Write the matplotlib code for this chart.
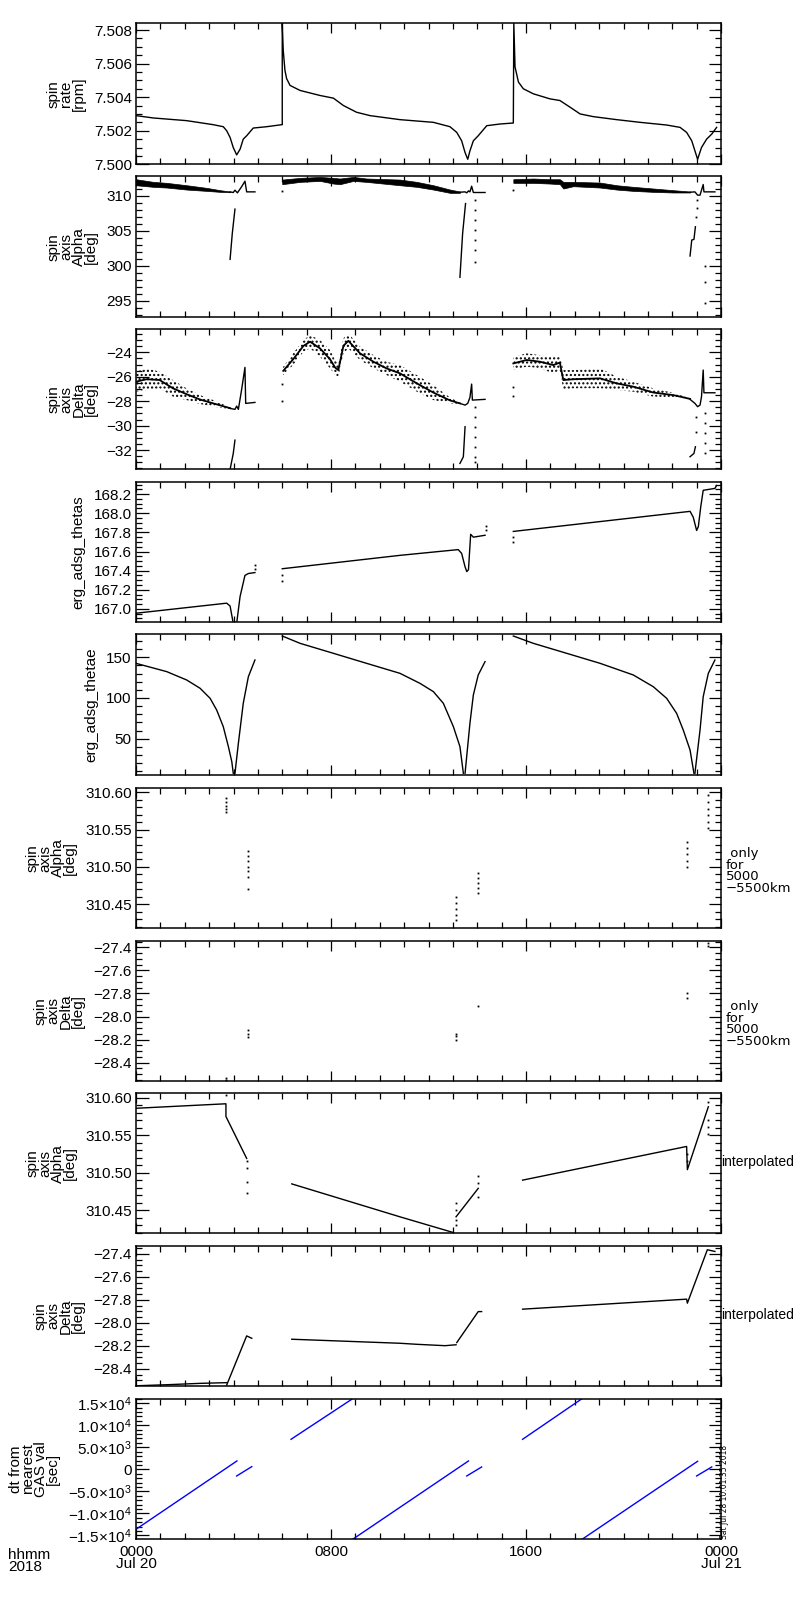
import matplotlib
matplotlib.use('Agg')
import matplotlib.pyplot as plt
from matplotlib.ticker import MultipleLocator, FixedLocator, FixedFormatter

plt.rcParams['font.family'] = ['Liberation Sans', 'DejaVu Sans']
plt.rcParams['mathtext.fontset'] = 'custom'
plt.rcParams['mathtext.rm'] = 'Liberation Sans'
plt.rcParams['mathtext.it'] = 'Liberation Sans:italic'
plt.rcParams['mathtext.bf'] = 'Liberation Sans:bold'
plt.rcParams['hatch.linewidth'] = 1.0

# ---------------- data (time in hours from 2018-07-20 00:00) ----------------
x_tick_pos = [0, 8, 16, 24]
x_tick_lab = ['0000\nJul 20', '0800', '1600', '0000\nJul 21']

# panel 1: spin rate [rpm]
rate_t = [0, 0.71, 2.08, 3.17, 3.58, 3.72, 3.86, 3.99, 4.13, 4.27, 4.40, 4.54, 4.81, 5.36, 5.98,
          6.00, 6.00, 6.04, 6.11, 6.18, 6.32, 6.73, 7.55, 8.10, 8.51, 9.05, 9.60, 10.83, 12.20,
          12.88, 13.16, 13.36, 13.50, 13.61, 13.70, 13.84, 14.04, 14.39, 14.93, 15.48, 15.50,
          15.55, 15.69, 15.89, 16.30, 16.98, 17.39, 17.81, 18.22, 18.76, 19.72, 20.68, 21.77,
          22.32, 22.59, 22.80, 23.04, 23.20, 23.41, 23.62, 23.82]
rate_v = [7.5029, 7.50276, 7.5026, 7.50236, 7.50224, 7.5020, 7.5016, 7.5010, 7.50056, 7.5009,
          7.5015, 7.5017, 7.50216, 7.50224, 7.50236,
          7.50236, 7.5084, 7.5068, 7.5056, 7.5051, 7.5047, 7.5044, 7.5041, 7.50394, 7.5035,
          7.5031, 7.5029, 7.50266, 7.5025,
          7.50224, 7.5019, 7.5014, 7.5007, 7.5003, 7.5008, 7.5014, 7.5017, 7.5023, 7.5024,
          7.50246, 7.5084,
          7.5058, 7.5049, 7.5045, 7.5042, 7.5039, 7.5038, 7.5034, 7.5030, 7.50284, 7.50266,
          7.5025, 7.50234,
          7.5022, 7.5019, 7.5014, 7.5003, 7.5010, 7.5015, 7.5018, 7.5022]
rate_ticks = [7.500, 7.502, 7.504, 7.506, 7.508]
rate_labels = ['7.500', '7.502', '7.504', '7.506', '7.508']

# panel 2: spin axis Alpha [deg]
alpha_band_t = [[0, 0.71, 1.26, 2.08, 2.90, 3.45, 3.86],
                [6.0, 6.73, 7.55, 8.10, 8.37, 8.92, 9.46, 10.83, 11.52, 12.20, 12.88, 13.29],
                [15.48, 16.30, 16.98, 17.39, 17.53, 17.94, 19.04, 19.72, 20.40, 21.22, 22.04, 22.73]]
alpha_band_hi = [[312.38, 312.0, 311.86, 311.52, 311.14, 310.81, 310.62],
                 [312.33, 312.57, 312.71, 312.57, 312.48, 312.71, 312.48, 312.33, 312.0, 311.52, 310.9, 310.62],
                 [312.38, 312.48, 312.38, 312.38, 312.0, 312.0, 311.9, 311.52, 311.29, 311.05, 310.81, 310.62]]
alpha_band_lo = [[311.52, 311.29, 311.19, 310.90, 310.71, 310.57, 310.52],
                 [311.67, 312.0, 312.14, 311.76, 311.67, 312.14, 312.0, 311.52, 311.29, 310.9, 310.43, 310.43],
                 [311.86, 311.86, 311.76, 311.67, 311.05, 311.38, 311.19, 310.9, 310.71, 310.57, 310.48, 310.48]]
alpha_line_t = [[3.86, 3.99, 4.06, 4.16, 4.33, 4.47, 4.54, 4.88],
                [13.29, 13.50, 13.57, 13.64, 13.70, 13.77, 13.84, 14.32],
                [22.73, 22.93, 23.04, 23.14, 23.20, 23.27, 23.30, 23.75],
                [3.86, 3.95, 4.06], [13.29, 13.40, 13.52], [22.73, 22.80, 22.89, 22.95]]
alpha_line_v = [[310.57, 310.48, 310.81, 310.43, 311.29, 312.1, 310.57, 310.57],
                [310.52, 310.57, 310.43, 310.71, 310.57, 311.38, 310.48, 310.48],
                [310.52, 310.57, 310.1, 310.1, 310.81, 311.62, 310.57, 310.57],
                [300.9, 304.6, 308.1], [298.33, 304.62, 308.9], [301.38, 303.67, 303.76, 305.57]]
alpha_dot_t = [6.0, 15.48, 13.9, 13.9, 13.9, 13.9, 13.9, 13.9, 13.9, 22.97, 23.0, 23.0,
               23.34, 23.34, 23.34]
alpha_dot_v = [310.7, 310.9, 309.38, 307.95, 306.52, 305.1, 303.67, 302.24, 300.57, 306.9,
               308.3, 309.38, 300.0, 297.71, 294.62]
alpha_ticks = [295, 300, 305, 310]
alpha_labels = ['295', '300', '305', '310']

# panel 3: spin axis Delta [deg]
delta_band_t = [[0, 0.44, 0.97, 1.52, 2.08, 2.63, 3.17, 3.86],
                [6.04, 6.45, 6.87, 7.14, 7.55, 7.96, 8.17, 8.30, 8.51, 8.71, 9.19, 9.74, 10.28,
                 10.83, 11.52, 12.20, 12.88, 13.29],
                [15.48, 16.03, 16.57, 17.12, 17.39, 17.53, 17.94, 19.04, 19.72, 20.40, 21.22,
                 22.04, 22.73]]
delta_band_hi = [[-25.58, -25.31, -25.58, -26.27, -26.95, -27.50, -27.91, -28.50],
                 [-25.17, -24.08, -22.99, -22.58, -22.99, -23.81, -24.63, -24.90, -22.85, -22.44,
                  -23.53, -24.22, -24.77, -25.04, -25.86, -26.68, -27.69, -28.13],
                 [-24.36, -24.08, -24.22, -24.36, -24.22, -25.45, -25.45, -25.31, -25.99, -26.40,
                  -26.95, -27.31, -27.77]]
delta_band_lo = [[-27.22, -27.09, -26.95, -27.63, -27.91, -28.23, -28.45, -28.64],
                 [-25.86, -25.04, -23.95, -23.67, -24.36, -25.31, -25.86, -26.00, -24.08, -23.67,
                  -24.63, -25.31, -25.86, -26.40, -27.22, -27.91, -28.18, -28.23],
                 [-25.45, -25.17, -25.31, -25.72, -25.45, -27.09, -26.95, -26.95, -27.09, -27.22,
                  -27.63, -27.69, -27.85]]
delta_line_t = [[3.86, 4.06, 4.13, 4.20, 4.33, 4.47, 4.50, 4.88],
                [13.29, 13.50, 13.61, 13.70, 13.77, 13.80, 14.32],
                [22.73, 22.93, 23.04, 23.14, 23.20, 23.27, 23.30, 23.75],
                [3.86, 3.99, 4.06], [13.29, 13.43, 13.50], [22.73, 22.89, 22.95]]
delta_line_v = [[-28.59, -28.67, -28.40, -28.67, -27.09, -25.23, -28.18, -28.10],
                [-28.18, -28.32, -28.18, -27.69, -26.60, -27.91, -27.85],
                [-27.85, -28.18, -28.45, -28.32, -27.63, -25.45, -27.31, -27.31],
                [-33.59, -32.28, -31.19], [-33.10, -32.55, -30.09], [-32.55, -32.28, -31.73]]
delta_dot_t = [6.0, 6.0, 15.48, 15.48, 13.9, 13.9, 13.9, 13.9, 13.9, 13.9, 13.9,
               22.97, 22.97, 23.34, 23.34, 23.34, 23.34, 23.34]
delta_dot_v = [-26.6, -27.99, -26.87, -27.58, -28.45, -29.27, -30.09, -30.91, -31.73, -32.55,
               -32.96, -29.27, -30.5, -29.0, -29.82, -30.64, -31.46, -32.28]
delta_ticks = [-32, -30, -28, -26, -24]
delta_labels = ['\u221232', '\u221230', '\u221228', '\u221226', '\u221224']

# panel 4: erg_adsg_thetas
thetas_t = [[0, 3.72, 3.86, 3.99, 4.13, 4.27, 4.47, 4.61, 4.88],
            [6.0, 10.83, 13.22, 13.36, 13.50, 13.57, 13.64, 13.73, 13.84, 14.32],
            [15.48, 22.73, 22.86, 23.00, 23.07, 23.17, 23.27, 23.75, 23.82]]
thetas_v = [[166.955, 167.06, 167.03, 166.85, 166.85, 167.13, 167.35, 167.37, 167.38],
            [167.42, 167.56, 167.62, 167.58, 167.44, 167.39, 167.41, 167.78, 167.75, 167.77],
            [167.81, 168.02, 167.96, 167.82, 167.86, 168.07, 168.24, 168.26, 168.29]]
thetas_dot_t = [4.88, 4.88, 6.0, 6.0, 14.36, 14.36, 15.48, 15.48]
thetas_dot_v = [167.42, 167.46, 167.29, 167.35, 167.87, 167.83, 167.70, 167.75]
thetas_ticks = [167.0, 167.2, 167.4, 167.6, 167.8, 168.0, 168.2]
thetas_labels = ['167.0', '167.2', '167.4', '167.6', '167.8', '168.0', '168.2']

# panel 5: erg_adsg_thetae
thetae_t = [[0, 1.26, 2.08, 2.63, 3.04, 3.31, 3.58, 3.79, 3.93, 3.99],
            [4.06, 4.20, 4.40, 4.61, 4.88],
            [6.0, 6.73, 8.10, 9.46, 10.83, 11.65, 12.20, 12.61, 13.02, 13.29, 13.43],
            [13.50, 13.70, 13.84, 14.04, 14.32],
            [15.48, 16.30, 17.67, 19.04, 20.40, 21.22, 21.77, 22.18, 22.45, 22.73, 22.89],
            [22.93, 23.14, 23.27, 23.48, 23.75]]
thetae_v = [[142.6, 132.4, 122.1, 111.9, 99.6, 85.2, 64.8, 40.2, 21.7, 7.4],
            [7.4, 44.3, 93.4, 126.2, 146.7],
            [176.2, 167.2, 154.9, 142.6, 130.3, 118.0, 107.8, 93.4, 64.8, 40.2, 7.4],
            [7.4, 68.9, 103.7, 128.3, 144.7],
            [176.2, 167.2, 154.9, 142.6, 128.3, 113.9, 99.6, 81.1, 60.7, 36.1, 7.4],
            [7.4, 60.7, 101.6, 130.3, 146.7]]
thetae_ticks = [50, 100, 150]
thetae_labels = ['50', '100', '150']

# panel 6: spin axis Alpha, only for 5000-5500 km
alpha_r_t = [3.69, 3.69, 3.69, 3.69, 3.69, 4.60, 4.60, 4.60, 4.60, 4.60, 4.60, 4.60,
             13.13, 13.13, 13.13, 13.13, 13.13, 14.05, 14.05, 14.05, 14.05, 14.05,
             22.60, 22.60, 22.60, 22.60, 22.60, 23.48, 23.48, 23.48, 23.48, 23.48, 23.48]
alpha_r_v = [310.592, 310.587, 310.582, 310.578, 310.574,
             310.522, 310.515, 310.508, 310.500, 310.494, 310.486, 310.471,
             310.460, 310.452, 310.444, 310.436, 310.429,
             310.492, 310.485, 310.479, 310.472, 310.465,
             310.533, 310.525, 310.517, 310.508, 310.500,
             310.596, 310.587, 310.578, 310.569, 310.560, 310.552]
alpha_fine_ticks = [310.45, 310.50, 310.55, 310.60]
alpha_fine_labels = ['310.45', '310.50', '310.55', '310.60']

# panel 7: spin axis Delta, only for 5000-5500 km
delta_r_t = [3.69, 3.69, 4.60, 4.60, 4.60, 13.13, 13.13, 13.13, 14.05, 22.60, 22.60, 23.48, 23.48]
delta_r_v = [-28.53, -28.55, -28.12, -28.15, -28.18, -28.15, -28.17, -28.20, -27.91,
             -27.80, -27.84, -27.36, -27.39]
delta_fine_ticks = [-28.4, -28.2, -28.0, -27.8, -27.6, -27.4]
delta_fine_labels = ['\u221228.4', '\u221228.2', '\u221228.0', '\u221227.8', '\u221227.6', '\u221227.4']

# panel 8: spin axis Alpha, interpolated
alpha_i_t = [[0, 3.69, 3.69, 4.54], [6.39, 10.83, 13.02], [13.13, 14.04],
             [15.86, 22.59, 22.62, 23.48]]
alpha_i_v = [[310.586, 310.592, 310.575, 310.519], [310.485, 310.441, 310.420],
             [310.441, 310.479], [310.490, 310.535, 310.504, 310.588]]
alpha_i_dot_t = [3.69, 4.54, 4.54, 4.54, 4.54, 13.13, 13.13, 13.13, 13.13,
                 14.04, 14.04, 14.04, 22.59, 22.59, 23.48, 23.48, 23.48, 23.48]
alpha_i_dot_v = [310.604, 310.515, 310.506, 310.488, 310.473, 310.459, 310.450, 310.437,
                 310.430, 310.495, 310.486, 310.468, 310.525, 310.515,
                 310.595, 310.570, 310.561, 310.552]

# panel 9: spin axis Delta, interpolated
delta_i_t = [[0, 1.26, 2.63, 3.72], [3.72, 4.54, 4.75], [6.39, 10.83, 11.52, 12.68, 13.13],
             [13.16, 14.04, 14.18], [15.86, 22.59, 22.62, 23.44, 23.75]]
delta_i_v = [[-28.546, -28.537, -28.525, -28.519], [-28.540, -28.113, -28.134],
             [-28.142, -28.177, -28.186, -28.198, -28.190],
             [-28.171, -27.902, -27.902], [-27.881, -27.794, -27.829, -27.365, -27.380]]

# panel 10: dt from nearest GAS val [sec]
dt_t = [[0, 4.14], [4.13, 4.75], [6.36, 8.85], [8.91, 13.64], [13.57, 14.18],
        [15.86, 18.28], [18.32, 23.04], [23.00, 23.62]]
dt_v = [[-13636, 1894], [-1515, 606], [6818, 15909], [-15833, 1894], [-1515, 530],
        [6818, 15985], [-15833, 1818], [-1515, 530]]
dt_ticks = [-15000, -10000, -5000, 0, 5000, 10000, 15000]
dt_labels = ['\u22121.5\u00d710$^{4}$', '\u22121.0\u00d710$^{4}$', '\u22125.0\u00d710$^{3}$', '0',
             '5.0\u00d710$^{3}$', '1.0\u00d710$^{4}$', '1.5\u00d710$^{4}$']

ylabels = ['spin\nrate\n[rpm]', 'spin\naxis\nAlpha\n[deg]', 'spin\naxis\nDelta\n[deg]',
           'erg_adsg_thetas', 'erg_adsg_thetae', 'spin\naxis\nAlpha\n[deg]',
           'spin\naxis\nDelta\n[deg]', 'spin\naxis\nAlpha\n[deg]', 'spin\naxis\nDelta\n[deg]',
           'dt from\nnearest\nGAS val\n[sec]']

# ---------------- layout ----------------
W, H = 800, 1600
fig = plt.figure(figsize=(8, 16), dpi=100)
tops = [23.3, 176.3, 329.3, 481.7, 634.3, 787.7, 940.7, 1093.3, 1245.7, 1398.7]
bots = [164.3, 317.3, 469.3, 622.3, 775.0, 928.3, 1081.3, 1233.3, 1386.0, 1539.0]
left, right = 136, 721
FS = 11

axes = []
for t, b in zip(tops, bots):
    ax = fig.add_axes([left / W, 1 - b / H, (right - left) / W, (b - t) / H])
    ax.set_xlim(0, 24)
    ax.xaxis.set_major_locator(FixedLocator(x_tick_pos))
    ax.xaxis.set_minor_locator(MultipleLocator(1))
    ax.tick_params(which='both', direction='in', top=True, right=True, width=0.9,
                   labelsize=FS)
    ax.tick_params(axis='x', which='major', length=7, pad=4)
    ax.tick_params(axis='x', which='minor', length=4)
    ax.tick_params(axis='y', which='major', length=9, pad=3)
    ax.tick_params(axis='y', which='minor', length=4.5)
    ax.set_xticklabels([])
    for s in ax.spines.values():
        s.set_linewidth(1.1)
    axes.append(ax)

def yfmt(ax, lo, hi, ticks, labels, minor):
    ax.set_ylim(lo, hi)
    ax.yaxis.set_major_locator(FixedLocator(ticks))
    ax.yaxis.set_major_formatter(FixedFormatter(labels))
    ax.yaxis.set_minor_locator(MultipleLocator(minor))

K = dict(color='black', lw=1.0)
D = dict(linestyle='none', marker='s', ms=1.3, mew=0, color='black')

# 1
ax = axes[0]
ax.plot(rate_t, rate_v, **K)
yfmt(ax, 7.500, 7.5084, rate_ticks, rate_labels, 0.0005)

# 2
ax = axes[1]
for t, hi, lo in zip(alpha_band_t, alpha_band_hi, alpha_band_lo):
    ax.fill_between(t, lo, hi, facecolor='black', edgecolor='black', lw=0.5)
for t, v in zip(alpha_line_t, alpha_line_v):
    ax.plot(t, v, **K)
ax.plot(alpha_dot_t, alpha_dot_v, **D)
yfmt(ax, 292.6, 312.8, alpha_ticks, alpha_labels, 1)

# 3
ax = axes[2]
for t, hi, lo in zip(delta_band_t, delta_band_hi, delta_band_lo):
    ax.fill_between(t, lo, hi, facecolor='none', edgecolor='black', hatch='....', lw=0)
    ax.plot(t, [(a + b) / 2 for a, b in zip(hi, lo)], color='black', lw=1.3)
for t, v in zip(delta_line_t, delta_line_v):
    ax.plot(t, v, **K)
ax.plot(delta_dot_t, delta_dot_v, **D)
yfmt(ax, -33.58, -22.11, delta_ticks, delta_labels, 0.5)

# 4
ax = axes[3]
for t, v in zip(thetas_t, thetas_v):
    ax.plot(t, v, **K)
ax.plot(thetas_dot_t, thetas_dot_v, **D)
yfmt(ax, 166.86, 168.33, thetas_ticks, thetas_labels, 0.05)

# 5
ax = axes[4]
for t, v in zip(thetae_t, thetae_v):
    ax.plot(t, v, **K)
yfmt(ax, 5.3, 178.3, thetae_ticks, thetae_labels, 10)

# 6
ax = axes[5]
ax.plot(alpha_r_t, alpha_r_v, **D)
yfmt(ax, 310.418, 310.606, alpha_fine_ticks, alpha_fine_labels, 0.01)

# 7
ax = axes[6]
ax.plot(delta_r_t, delta_r_v, **D)
yfmt(ax, -28.561, -27.343, delta_fine_ticks, delta_fine_labels, 0.05)

# 8
ax = axes[7]
for t, v in zip(alpha_i_t, alpha_i_v):
    ax.plot(t, v, **K)
ax.plot(alpha_i_dot_t, alpha_i_dot_v, **D)
yfmt(ax, 310.419, 310.606, alpha_fine_ticks, alpha_fine_labels, 0.01)

# 9
ax = axes[8]
for t, v in zip(delta_i_t, delta_i_v):
    ax.plot(t, v, **K)
yfmt(ax, -28.548, -27.33, delta_fine_ticks, delta_fine_labels, 0.05)

# 10
ax = axes[9]
for t, v in zip(dt_t, dt_v):
    ax.plot(t, v, color='blue', lw=1.0)
yfmt(ax, -15840, 16045, dt_ticks, dt_labels, 1000)
ax.set_xticklabels(x_tick_lab, linespacing=0.85)

for ax, lab in zip(axes, ylabels):
    ax.set_ylabel(lab, fontsize=FS, linespacing=0.85, labelpad=6)

def ftext(x, y, s, **kw):
    fig.text(x / W, 1 - y / H, s, **kw)

ftext(8, 1548, 'hhmm\n2018', fontsize=FS, ha='left', va='top', linespacing=0.85)
for p in (5, 6):
    yc = (tops[p] + bots[p]) / 2 + 13
    ftext(726, yc, ' only\nfor\n5000\n\u22125500km', fontsize=9.5, ha='left', va='center',
          linespacing=0.85, family=['DejaVu Sans'])
for p in (7, 8):
    yc = (tops[p] + bots[p]) / 2 - 1
    ftext(721, yc, 'interpolated', fontsize=10, ha='left', va='center')
ftext(724.5, 1539, 'Sat Jul 28 10:01:35 2018', fontsize=5.5, rotation=90, ha='center',
      va='bottom', family=['DejaVu Sans'])

fig.savefig('out.png', dpi=100, facecolor='white')
